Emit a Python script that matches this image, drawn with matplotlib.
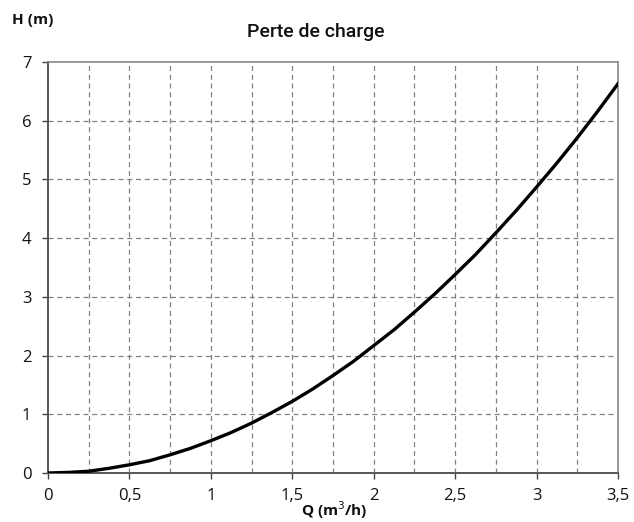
import matplotlib.pyplot as plt
import numpy as np

# debit (m3/h) et perte de charge (m)
q_vals = [0, 0.125, 0.25, 0.375, 0.5, 0.625, 0.75, 0.875, 1.0, 1.125, 1.25,
          1.375, 1.5, 1.625, 1.75, 1.875, 2.0, 2.125, 2.25, 2.375, 2.5,
          2.625, 2.75, 2.875, 3.0, 3.125, 3.25, 3.375, 3.5]
h_vals = [0, 0.01, 0.03, 0.08, 0.14, 0.21, 0.31, 0.42, 0.55, 0.69, 0.85,
          1.03, 1.22, 1.43, 1.66, 1.90, 2.17, 2.44, 2.74, 3.05, 3.38,
          3.72, 4.09, 4.47, 4.87, 5.28, 5.71, 6.16, 6.63]

x_ticks = [0, 0.5, 1, 1.5, 2, 2.5, 3, 3.5]
x_labels = ['0', '0,5', '1', '1,5', '2', '2,5', '3', '3,5']
y_ticks = [0, 1, 2, 3, 4, 5, 6, 7]

plt.rcParams['font.family'] = ['Open Sans', 'DejaVu Sans']

fig = plt.figure(figsize=(6.34, 5.22), dpi=100)
ax = fig.add_axes([48 / 634, 49 / 522, 570 / 634, 411 / 522])

# grille pointillee
for gx in np.arange(0.25, 3.5, 0.25):
    ax.axvline(gx, color='#808080', linestyle=(0, (4, 3)), linewidth=0.9, zorder=1)
for gy in range(1, 7):
    ax.axhline(gy, color='#808080', linestyle=(0, (4, 3)), linewidth=0.9, zorder=1)

ax.plot(q_vals, h_vals, color='black', linewidth=2.4, zorder=3)

ax.set_xlim(0, 3.5)
ax.set_ylim(0, 7)
ax.set_xticks(x_ticks)
ax.set_xticklabels(x_labels)
ax.set_yticks(y_ticks)
ax.tick_params(axis='both', direction='out', length=4, width=1, colors='#444444',
               labelcolor='#111111', labelsize=12)
ax.tick_params(axis='x', pad=7)
ax.tick_params(axis='y', pad=8)

for side in ['left', 'bottom']:
    ax.spines[side].set_color('#555555')
    ax.spines[side].set_linewidth(1.4)
for side in ['top', 'right']:
    ax.spines[side].set_color('#888888')
    ax.spines[side].set_linewidth(1.2)

fig.text(316 / 634, 1 - 32 / 522, 'Perte de charge', ha='center', va='center',
         fontsize=14, family='Roboto', fontweight='medium', color='#111111')
fig.text(12 / 634, 1 - 20 / 522, 'H (m)', ha='left', va='center',
         fontsize=11, fontweight='bold', color='#111111')
fig.text(334 / 634, 1 - 510 / 522, 'Q (m$^3$/h)', ha='center', va='center',
         fontsize=11, fontweight='bold', color='#111111')

fig.savefig('out.png', dpi=100)
